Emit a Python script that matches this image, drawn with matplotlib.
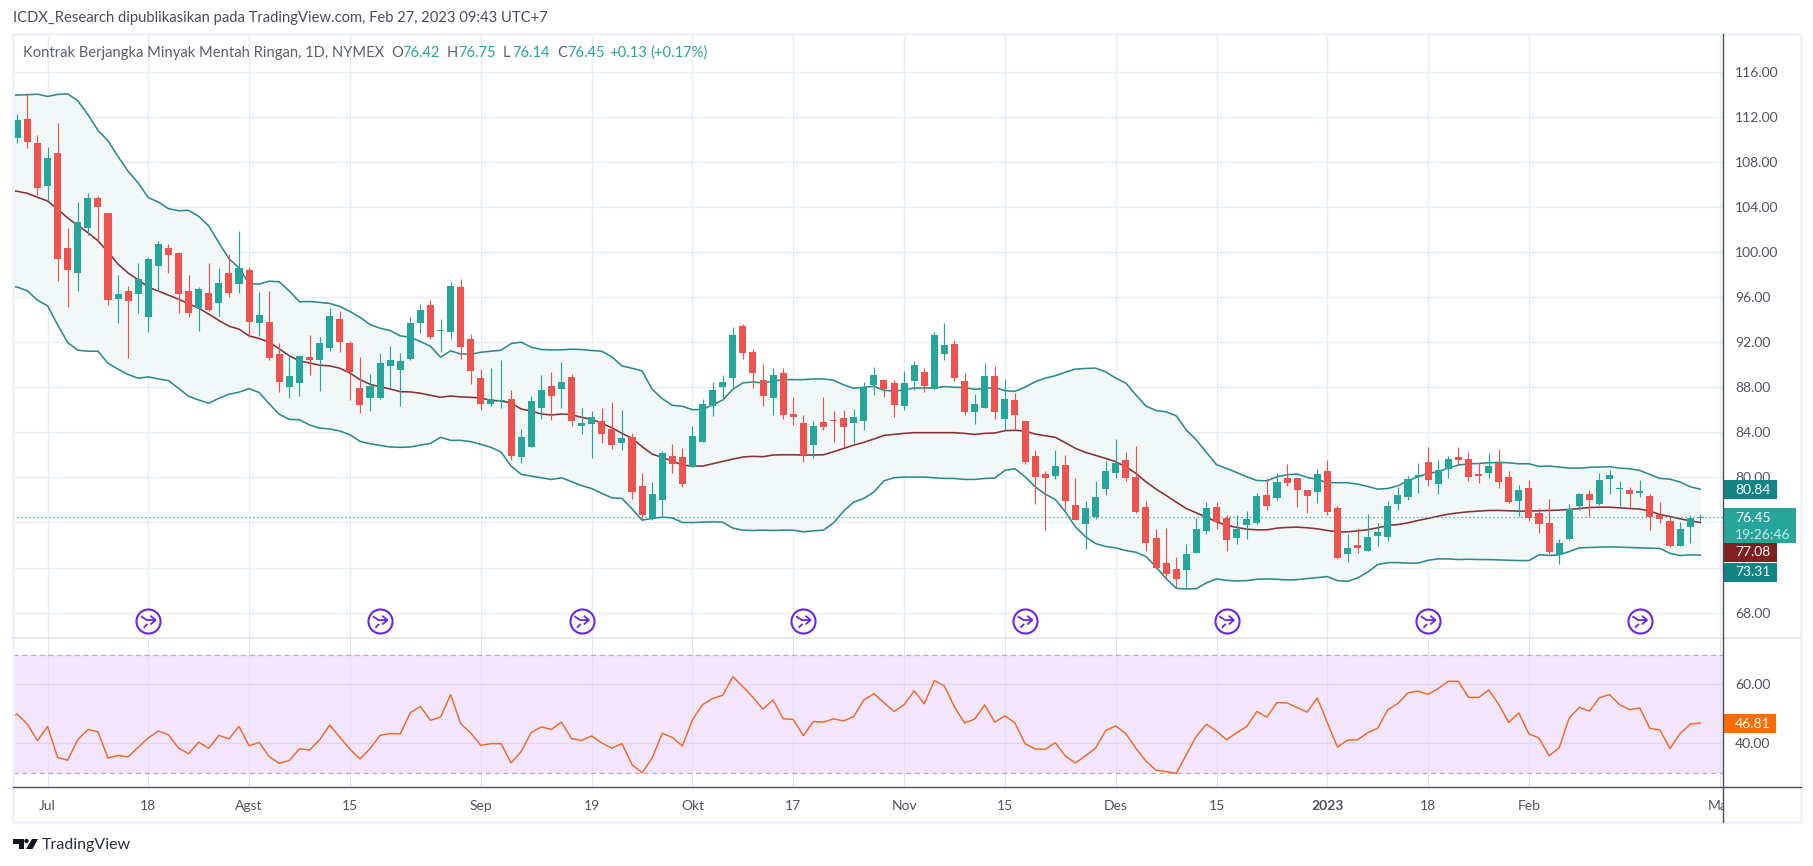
import matplotlib
matplotlib.use("Agg")
import matplotlib.pyplot as plt
from matplotlib.patches import Rectangle, Polygon, Circle
from matplotlib.path import Path
from matplotlib.transforms import Bbox

FONT = "Lato"
plt.rcParams["font.family"] = [FONT, "DejaVu Sans"]

opens = [110.10,111.85,109.72,105.90,108.83,100.39,98.16,102.16,104.83,103.50,
95.85,96.56,96.30,94.25,98.79,100.39,99.94,96.56,95.05,96.39,
95.50,98.16,97.19,98.43,93.72,93.81,90.96,88.03,88.39,90.70,
90.43,91.50,94.07,91.94,87.94,87.05,87.05,89.90,89.54,90.52,
93.72,95.32,93.01,92.92,96.92,92.30,88.83,86.52,86.79,86.96,
81.81,82.70,86.16,88.12,87.85,88.92,84.56,84.74,85.01,84.30,
83.05,83.59,79.23,76.36,77.99,81.90,81.81,80.92,83.14,86.34,
88.03,88.83,93.45,91.14,88.65,87.05,89.27,85.63,84.83,82.87,
84.92,85.10,85.27,84.83,85.01,88.21,88.65,88.39,86.34,88.56,
89.36,87.85,90.96,91.85,88.56,85.81,86.16,89.01,85.19,86.87,
85.01,81.90,80.30,80.12,81.10,77.54,75.85,76.47,78.96,80.39,
81.54,80.03,77.36,74.61,72.39,71.85,71.76,73.27,75.23,77.36,
76.39,74.61,75.76,75.94,78.43,78.16,79.94,79.94,78.87,78.70,
80.56,77.27,73.19,73.99,73.45,74.79,74.70,77.63,78.25,80.03,
81.36,79.41,80.74,81.81,81.63,80.30,80.39,81.27,80.03,77.90,
79.05,76.83,75.94,73.10,74.52,77.45,78.52,77.63,79.85,78.96,
78.87,78.61,78.34,76.65,76.12,73.90,75.59,76.42]
highs = [112.21,114.07,110.43,109.36,111.41,102.16,104.47,105.27,105.01,103.50,
97.99,97.01,99.05,99.59,101.01,100.74,100.03,97.99,96.92,99.05,
98.61,99.85,101.90,98.70,96.47,96.56,91.94,90.87,90.87,92.65,
92.47,95.05,94.79,92.12,90.70,89.19,91.05,91.67,91.05,94.25,
95.41,95.76,94.07,97.36,97.63,92.74,89.63,89.72,90.43,87.76,
84.30,87.23,89.10,89.36,90.25,89.19,86.16,85.90,86.16,86.70,
85.99,83.94,80.39,79.59,82.34,82.96,82.61,84.56,86.96,88.47,
89.10,93.36,93.63,91.41,90.07,89.72,89.72,87.14,85.54,85.01,
87.14,85.90,85.99,86.07,88.47,89.81,88.74,88.65,89.45,90.34,
89.72,92.92,93.72,92.21,89.27,87.41,90.16,89.90,88.74,87.50,
85.01,82.43,80.56,82.43,81.99,79.94,77.90,79.67,81.45,83.41,
82.25,82.79,77.90,75.41,75.50,72.92,74.07,76.39,77.81,77.81,
76.65,76.65,77.01,78.61,79.94,80.39,81.19,79.94,78.87,80.74,
81.54,77.45,74.96,75.50,76.74,75.94,77.90,79.14,80.12,81.27,
82.70,81.54,81.90,82.70,82.25,81.27,82.16,82.52,80.56,79.32,
79.76,77.27,78.07,74.52,77.63,78.61,78.87,80.39,80.65,79.67,
79.14,79.76,78.52,77.81,76.56,76.03,76.65,76.75]
lows = [109.66,109.19,105.10,104.50,97.45,95.14,96.56,101.54,100.92,95.32,
93.72,90.61,94.61,92.92,96.56,98.16,94.61,94.25,93.01,94.79,
94.34,96.03,96.39,92.47,92.56,90.43,87.59,87.05,87.23,89.10,
87.67,91.23,91.14,86.87,85.72,85.90,86.96,87.94,86.34,90.43,
92.83,92.30,91.14,92.30,90.52,88.30,85.99,86.34,86.16,81.54,
81.27,82.70,85.19,85.10,86.16,84.56,83.85,81.72,83.05,82.52,
82.43,78.07,76.21,76.21,76.56,80.39,79.14,80.92,83.14,85.45,
87.05,88.03,90.52,87.94,86.34,85.54,85.19,84.65,81.36,81.72,
84.21,83.14,82.70,83.05,84.21,87.32,87.14,85.36,85.99,87.76,
87.59,87.85,90.43,88.56,85.54,84.74,86.16,85.19,84.21,84.21,
81.19,77.63,75.32,79.85,77.10,76.21,73.63,76.30,78.43,79.94,
79.67,76.83,73.45,71.85,71.14,70.16,70.25,73.27,74.96,75.41,
73.45,74.07,74.52,75.85,77.10,77.99,79.23,77.36,76.83,77.72,
76.65,72.74,72.47,73.27,73.45,73.90,74.34,77.10,77.99,78.61,
79.23,78.52,79.94,81.10,79.67,79.50,79.94,79.05,77.72,76.56,
76.12,75.05,73.19,72.30,74.43,77.10,76.56,77.54,78.52,77.45,
77.27,78.25,75.32,75.94,73.81,73.90,74.16,76.14]
closes = [111.76,109.75,105.66,108.39,99.41,98.43,102.70,104.83,104.03,95.76,
96.30,95.67,97.63,99.41,100.74,99.76,96.30,94.61,96.74,94.87,
97.27,96.39,98.61,93.81,94.43,90.61,88.47,89.01,90.79,90.43,
91.94,94.34,92.03,89.36,86.43,88.12,90.16,90.43,90.34,93.72,
94.87,92.47,93.10,97.01,91.59,89.45,86.52,86.96,86.87,81.90,
83.59,86.79,87.76,87.23,88.47,85.01,84.83,85.36,83.85,82.87,
83.50,78.70,76.65,78.52,82.16,81.19,79.41,83.67,86.52,87.76,
88.47,92.65,91.05,89.27,87.23,89.10,85.54,85.36,81.99,84.56,
84.47,85.01,84.47,85.36,88.03,89.10,87.85,86.43,88.39,89.99,
88.12,92.65,91.76,88.83,85.81,86.52,89.01,85.81,86.96,85.54,
81.36,80.03,79.94,81.01,77.90,76.21,77.27,78.25,80.56,81.27,
79.94,76.92,74.16,71.94,71.41,70.96,73.19,75.41,77.27,76.03,
74.43,75.41,76.30,78.34,77.45,79.59,79.50,78.87,78.34,80.30,
76.92,72.83,73.72,73.72,74.70,75.14,77.45,78.43,79.85,80.21,
79.76,80.65,81.63,81.54,80.03,80.12,81.01,79.59,77.81,78.87,
76.39,75.85,73.36,74.16,77.19,78.52,77.99,79.76,80.21,79.05,
78.52,78.79,76.47,76.30,73.90,75.41,76.39,76.45]

# indicator series start one bar earlier, at the clipped left edge of the pane
bb_upper = [113.95,113.93,113.96,114.01,113.81,113.99,114.04,113.42,112.21,110.81,109.87,
108.47,107.17,106.13,104.83,104.44,103.85,103.67,103.70,103.17,102.31,
100.83,99.41,98.61,97.19,97.16,97.42,97.36,96.53,95.59,95.61,
95.53,95.44,95.17,94.73,94.22,93.57,93.24,93.04,92.56,92.44,
92.06,91.64,90.67,91.23,90.96,90.93,91.11,91.20,91.29,91.88,
92.00,91.56,91.35,91.32,91.32,91.38,91.35,91.26,91.20,90.70,
89.90,89.69,89.45,87.82,86.99,86.40,86.31,86.01,86.04,86.43,
86.87,87.82,88.39,88.47,88.39,88.56,88.68,88.68,88.68,88.74,
88.74,88.62,88.21,87.91,88.00,88.09,87.73,87.67,87.76,87.94,
87.94,87.94,88.06,88.00,87.97,87.82,87.91,87.97,87.70,87.64,
88.01,88.49,88.81,89.02,89.34,89.61,89.67,89.70,89.37,88.81,
88.37,87.33,86.33,85.94,85.82,85.47,84.22,83.32,82.22,81.13,
80.80,80.44,80.06,79.73,79.70,80.06,80.24,80.30,80.00,79.82,
79.53,79.53,79.53,79.41,79.20,78.96,79.02,79.26,79.70,80.06,
80.36,80.50,80.83,81.10,81.21,81.24,81.30,81.33,81.30,81.21,
81.21,80.98,81.01,80.92,80.83,80.83,80.89,80.92,80.95,80.83,
80.77,80.62,80.27,79.91,79.85,79.59,79.17,78.96]
bb_mid = [105.48,105.39,105.21,104.86,104.53,103.82,103.02,102.37,101.72,101.01,100.00,
98.93,98.13,97.54,96.89,96.53,96.18,95.82,95.41,95.02,94.49,
93.93,93.42,93.16,92.56,92.33,92.00,91.41,90.79,90.34,90.16,
89.96,89.90,89.69,89.27,88.68,88.27,88.03,87.85,87.61,87.59,
87.47,87.29,87.11,87.23,87.14,87.11,87.05,86.84,86.79,86.61,
86.07,85.90,85.63,85.54,85.63,85.57,85.33,85.16,84.80,84.41,
83.91,83.47,82.73,82.07,81.78,81.45,81.10,81.01,81.01,81.21,
81.42,81.63,81.81,81.87,81.84,81.99,82.01,82.01,81.99,81.99,
82.01,82.28,82.58,82.87,83.11,83.41,83.73,83.82,83.91,83.97,
83.97,83.97,83.97,83.97,83.91,83.82,83.91,83.94,84.15,84.18,
84.12,83.85,83.70,83.56,83.08,82.58,82.22,81.96,81.69,81.39,
80.95,80.36,79.61,78.96,78.40,77.81,77.24,76.86,76.47,76.06,
75.76,75.56,75.41,75.35,75.35,75.50,75.56,75.59,75.53,75.44,
75.29,75.17,75.17,75.26,75.36,75.53,75.73,75.82,75.97,76.18,
76.36,76.56,76.74,76.86,76.95,77.01,77.07,77.07,77.04,77.01,
77.01,77.04,77.07,77.10,77.16,77.24,77.33,77.36,77.36,77.30,
77.24,77.19,77.01,76.71,76.53,76.33,76.15,76.00]
bb_lower = [97.00,96.89,96.56,95.73,95.23,93.54,91.97,91.29,91.20,91.20,90.13,
89.60,89.13,88.80,88.92,88.74,88.59,87.91,87.20,86.87,86.58,
87.02,87.38,87.56,87.88,87.53,86.52,85.60,85.15,85.12,84.65,
84.38,84.30,84.12,83.80,83.20,82.99,82.84,82.70,82.67,82.70,
82.87,83.02,83.56,83.29,83.29,83.17,82.93,82.67,82.25,81.01,
80.27,80.12,79.97,79.82,79.97,79.62,79.27,79.01,78.58,78.19,
78.13,77.21,76.21,76.36,76.47,76.41,76.00,76.00,76.03,76.06,
76.03,75.50,75.32,75.29,75.32,75.29,75.32,75.32,75.17,75.26,
75.32,75.97,77.01,77.81,78.13,78.70,79.70,79.97,80.03,80.03,
80.03,79.97,79.91,79.91,79.82,79.82,79.91,79.94,80.62,80.77,
80.06,79.17,78.52,78.04,76.95,75.61,74.73,74.13,73.87,73.75,
73.51,73.36,72.98,72.06,71.02,70.16,70.10,70.13,70.64,70.99,
70.87,70.81,70.84,70.96,70.99,70.96,70.90,70.93,71.02,71.11,
71.20,70.84,70.78,71.08,71.60,72.27,72.44,72.44,72.39,72.39,
72.65,72.77,72.77,72.71,72.74,72.71,72.71,72.68,72.65,72.62,
72.62,73.13,73.07,73.13,73.42,73.75,73.78,73.81,73.84,73.81,
73.78,73.75,73.72,73.69,73.27,73.07,73.13,73.10]
rsi = [48.5,49.8,46.4,40.8,45.6,35.1,34.2,41.1,44.6,43.8,34.9,
35.8,35.3,38.6,41.7,44.1,42.8,38.3,36.4,40.3,38.2,
42.6,41.4,45.6,39.1,40.2,35.4,33.1,34.1,38.1,37.6,
41.1,46.1,42.0,38.0,34.6,38.1,42.6,43.2,43.1,50.3,
52.4,47.7,48.8,56.4,46.6,43.4,39.2,39.8,39.8,33.3,
37.1,43.6,45.5,44.6,47.1,41.5,40.9,42.4,40.0,38.3,
39.8,32.7,29.9,34.9,43.3,41.9,39.0,47.9,53.0,55.1,
56.2,62.5,59.1,55.5,51.5,54.6,48.2,48.0,42.5,47.3,
47.1,48.2,47.5,49.0,54.6,56.7,53.7,50.7,53.0,57.7,
53.3,61.2,59.3,52.2,46.8,48.1,52.9,47.1,49.2,46.8,
39.8,38.0,37.9,40.1,35.6,33.2,35.7,38.3,44.2,45.8,
43.2,38.2,33.9,30.8,30.3,29.7,36.0,42.3,46.4,44.0,
41.1,43.5,45.6,50.7,48.8,53.7,53.6,52.0,50.5,55.3,
46.9,38.6,41.0,41.1,43.5,45.0,51.3,53.4,57.0,57.6,
56.5,58.5,60.9,60.9,55.5,55.4,58.0,53.1,47.0,50.2,
43.1,41.7,35.7,38.4,48.5,52.1,50.8,55.4,56.4,53.0,
51.3,51.9,45.0,44.4,38.1,43.2,46.4,46.81]

price_ticks = [116,112,108,104,100,96,92,88,84,80,76,72,68]
price_tick_labels = ["116.00","112.00","108.00","104.00","100.00","96.00","92.00","88.00","84.00","80.00","","","68.00"]
rsi_ticks = [60,40]
rsi_band = [70,30]
time_idx = [3,13,23,33,46,57,67,77,88,98,109,119,130,140,150,169]
time_labels = ["Jul","18","Agst","15","Sep","19","Okt","17","Nov","15","Des","15","2023","18","Feb","Mar"]
event_idx = [13,36,56,78,100,120,140,161]
event_level = 67.26
last_close = 76.45
legend_name = "Kontrak Berjangka Minyak Mentah Ringan, 1D, NYMEX"
header = "ICDX_Research dipublikasikan pada TradingView.com, Feb 27, 2023 09:43 UTC+7"

W, H = 1813, 866
UP, DOWN = "#26a69a", "#ef5350"
GRID = "#e4edf3"
TXT = "#50535e"
fig = plt.figure(figsize=(W/100, H/100), dpi=100, facecolor="white")

def axes_px(l, t, r, b, **kw):
    return fig.add_axes([l/W, 1-b/H, (r-l)/W, (b-t)/H], **kw)

ax = axes_px(13, 34, 1723, 638)
ax2 = axes_px(13, 638, 1723, 787)
xlim = (-0.427, 169.26)
for a in (ax, ax2):
    a.set_xlim(*xlim)
    for s in a.spines.values():
        s.set_visible(False)
    a.yaxis.tick_right()
    a.set_axisbelow(True)
    a.grid(True, color=GRID, lw=1.0)
    a.tick_params(length=0)
ax.set_ylim(65.75, 119.35)
ax2.set_ylim(25.1, 75.6)
ax.set_yticks(price_ticks, price_tick_labels, fontsize=10, color=TXT)
ax.tick_params(axis="y", pad=8.6)
ax.set_xticks(time_idx)
ax.tick_params(axis="x", labelbottom=False)

n = list(range(len(closes)))
n_ind = list(range(-1, len(closes)))
ax.fill_between(n_ind, bb_lower, bb_upper, color="#f2f8f8", lw=0, zorder=1)
ax.plot(n_ind, bb_upper, color="#2b8c8e", lw=1.15, zorder=2)
ax.plot(n_ind, bb_lower, color="#2b8c8e", lw=1.15, zorder=2)
ax.plot(n_ind, bb_mid, color="#8a3036", lw=1.15, zorder=2)
ax.axhline(last_close, color=UP, lw=0.9, ls=(0, (1, 2.2)), zorder=2)

colors = [UP if c >= o else DOWN for o, c in zip(opens, closes)]
ax.vlines(n, lows, highs, colors=colors, lw=0.85, zorder=3)
ax.bar(n, [max(abs(c-o), 0.09) for o, c in zip(opens, closes)],
       bottom=[min(o, c) for o, c in zip(opens, closes)],
       width=0.7, color=colors, lw=0, zorder=4)

icon = Path([(-.5,.32),(-.1,.06),(.5,.06),(.15,.36),(.5,.06),(.15,-.24),(-.32,-.46),(-.06,-.2)],
            [Path.MOVETO,Path.LINETO,Path.LINETO,Path.MOVETO,Path.LINETO,Path.LINETO,Path.MOVETO,Path.LINETO])
lv = [event_level]*len(event_idx)
ax.scatter(event_idx, lv, s=300, facecolor="white", edgecolor="#6a25f0", lw=1.5, zorder=5)
ax.scatter(event_idx, lv, s=110, marker=icon, facecolors="none", edgecolors="#6a25f0", lw=1.3, zorder=6)

ax2.axhspan(rsi_band[1], rsi_band[0], color="#f4e6fe", lw=0, zorder=0)
ax2.set_axisbelow(False)
ax2.grid(False)
ax2.vlines(time_idx, *ax2.get_ylim(), color="#dfe3f2", lw=0.8, zorder=1)
ax2.hlines(rsi_ticks, *xlim, color="#e2d6f2", lw=1.0, zorder=1)
ax2.hlines(rsi_band, *xlim, color="#b9a8c6", lw=0.9, ls=(0, (4, 3)), zorder=2)
ax2.plot(n_ind, rsi, color="#f5691f", lw=1.05, zorder=3)
ax2.set_yticks(rsi_ticks, [f"{v:.2f}" for v in rsi_ticks], fontsize=10, color=TXT)
ax2.tick_params(axis="y", pad=8.6)
ax2.set_xticks(time_idx, time_labels, fontsize=10, color=TXT)
ax2.tick_params(axis="x", pad=9)
for t, lab in zip(ax2.get_xticklabels(), time_labels):
    if lab == "2023":
        t.set_fontweight("bold")
    if lab == "Mar":
        t.set_clip_on(True)
        t.set_clip_box(Bbox([[0, 0], [1723, H]]))

ov = fig.add_axes([0, 0, 1, 1], zorder=10)
ov.set_xlim(0, W); ov.set_ylim(H, 0); ov.axis("off"); ov.patch.set_alpha(0)
FRAME = "#f0f3fa"
ov.add_patch(Rectangle((13, 34), 1788, 788, fill=False, ec=FRAME, lw=2))
ov.plot([13, 1801], [638, 638], color="#e0e3eb", lw=1.1)
ov.plot([13, 1801], [787, 787], color="#4a4d57", lw=1.0)
ov.plot([1723, 1723], [34, 822], color="#4a4d57", lw=1.0)

ov.text(13, 18, header, fontsize=10.6, color="#4a4d57", va="center")
ov.text(23, 53, legend_name, fontsize=10.6, color="#5d606b", va="center")
for x, s, c in [(391, "O", "#5d606b"), (402, "76.42", UP), (447, "H", "#5d606b"), (458, "76.75", UP),
                (503, "L", "#5d606b"), (512, "76.14", UP), (557, "C", "#5d606b"), (567, "76.45", UP),
                (609, "+0.13", UP), (650, "(+0.17%)", UP)]:
    ov.text(x, 53, s, fontsize=10.6, color=c, va="center")

def tag(t, b, r, color, lines):
    ov.add_patch(Rectangle((1724, t), r-1724, b-t, color=color, lw=0))
    for y, s, c in lines:
        ov.text(1735, y, s, fontsize=10, color=c, va="center")

tag(480, 499, 1777, "#138484", [(489.5, "80.84", "white")])
tag(563, 582, 1777, "#138484", [(572.5, "73.31", "white")])
tag(508, 543, 1796, UP, [(518, "76.45", "white"), (535, "19:26:46", "#c9ebe7")])
tag(543, 562, 1777, "#801f1f", [(552.5, "77.08", "white")])
tag(714, 733, 1776, "#ff6d00", [(723.5, "46.81", "white")])

LOGO = "#131722"
ov.add_patch(Polygon([(13,839),(24,839),(24,849),(19,849),(19,843.5),(13,843.5)], color=LOGO, lw=0))
ov.add_patch(Circle((26.5,841), 2.2, color=LOGO, lw=0))
ov.add_patch(Polygon([(32,839),(38,839),(32.5,849),(26,849)], color=LOGO, lw=0))
ov.text(42, 845, "TradingView", fontsize=11.5, color="#2a2e39", va="center")

fig.savefig("out.png", dpi=100, facecolor="white")
